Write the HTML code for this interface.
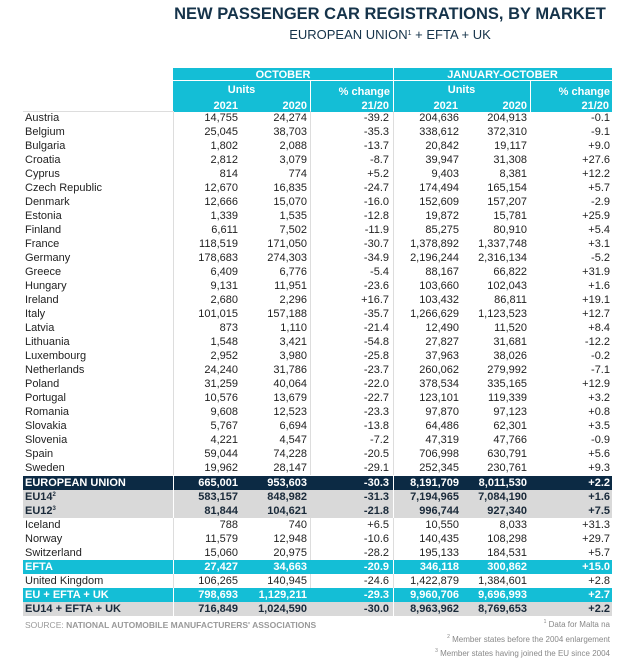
<!DOCTYPE html>
<html><head><meta charset="utf-8"><style>
body{margin:0;background:#fff;font-family:"Liberation Sans",sans-serif;}
#page{position:relative;width:624px;height:667px;overflow:hidden;}
.a{position:absolute;white-space:nowrap;}
.t{font-size:11px;color:#222;line-height:14px;}
.r{text-align:right;}
.h{color:#fff;font-weight:bold;font-size:11px;line-height:12px;}
sup{line-height:0;vertical-align:4px;}
</style></head><body><div id="page">
<div class="a" style="left:0;width:780px;text-align:center;top:5px;font-size:16.5px;font-weight:bold;color:#15334a;">NEW PASSENGER CAR REGISTRATIONS, BY MARKET</div>
<div class="a" style="left:0;width:780px;text-align:center;top:27px;font-size:13px;color:#15334a;">EUROPEAN UNION<sup style="font-size:7px">1</sup> + EFTA + UK</div>
<div class="a" style="left:173px;top:68px;width:439px;height:44px;background:#14bed6"></div>
<div class="a" style="left:393px;top:68px;width:1px;height:44px;background:#fff"></div>
<div class="a" style="left:173px;top:80px;width:439px;height:1px;background:#fff"></div>
<div class="a" style="left:310px;top:81px;width:1px;height:31px;background:#fff"></div>
<div class="a" style="left:530px;top:81px;width:1px;height:31px;background:#fff"></div>
<div class="a h" style="left:173px;width:220px;text-align:center;top:69px">OCTOBER</div>
<div class="a h" style="left:393px;width:219px;text-align:center;top:69px">JANUARY-OCTOBER</div>
<div class="a h" style="left:173px;width:137px;text-align:center;top:84px">Units</div>
<div class="a h" style="left:393px;width:137px;text-align:center;top:84px">Units</div>
<div class="a h r" style="left:310px;width:80px;top:86px">% change</div>
<div class="a h r" style="left:530px;width:80px;top:86px">% change</div>
<div class="a h r" style="left:190px;width:48px;top:100px">2021</div>
<div class="a h r" style="left:258px;width:49px;top:100px">2020</div>
<div class="a h r" style="left:330px;width:59px;top:100px">21/20</div>
<div class="a h r" style="left:410px;width:48px;top:100px">2021</div>
<div class="a h r" style="left:478px;width:49px;top:100px">2020</div>
<div class="a h r" style="left:550px;width:59px;top:100px">21/20</div>
<div class="a" style="left:23px;top:111px;width:150px;height:1px;background:#ddd"></div>
<div id="rows"></div>
<div class="a" style="left:25px;top:620px;font-size:8.5px;color:#999">SOURCE: <b>NATIONAL AUTOMOBILE MANUFACTURERS' ASSOCIATIONS</b></div>
<div class="a r" style="right:14px;top:620px;font-size:8px;color:#888"><sup style="font-size:5px">1</sup> Data for Malta na</div>
<div class="a r" style="right:14px;top:635px;font-size:8px;color:#888"><sup style="font-size:5px">2</sup> Member states before the 2004 enlargement</div>
<div class="a r" style="right:14px;top:649px;font-size:8px;color:#888"><sup style="font-size:5px">3</sup> Member states having joined the EU since 2004</div>
</div>
<script>
const markets=["Austria","Belgium","Bulgaria","Croatia","Cyprus","Czech Republic","Denmark","Estonia","Finland","France","Germany","Greece","Hungary","Ireland","Italy","Latvia","Lithuania","Luxembourg","Netherlands","Poland","Portugal","Romania","Slovakia","Slovenia","Spain","Sweden","EUROPEAN UNION","EU14<sup style='font-size:6px'>2</sup>","EU12<sup style='font-size:6px'>3</sup>","Iceland","Norway","Switzerland","EFTA","United Kingdom","EU + EFTA + UK","EU14 + EFTA + UK"];
const oct2021=["14,755","25,045","1,802","2,812","814","12,670","12,666","1,339","6,611","118,519","178,683","6,409","9,131","2,680","101,015","873","1,548","2,952","24,240","31,259","10,576","9,608","5,767","4,221","59,044","19,962","665,001","583,157","81,844","788","11,579","15,060","27,427","106,265","798,693","716,849"];
const oct2020=["24,274","38,703","2,088","3,079","774","16,835","15,070","1,535","7,502","171,050","274,303","6,776","11,951","2,296","157,188","1,110","3,421","3,980","31,786","40,064","13,679","12,523","6,694","4,547","74,228","28,147","953,603","848,982","104,621","740","12,948","20,975","34,663","140,945","1,129,211","1,024,590"];
const octPct=["-39.2","-35.3","-13.7","-8.7","+5.2","-24.7","-16.0","-12.8","-11.9","-30.7","-34.9","-5.4","-23.6","+16.7","-35.7","-21.4","-54.8","-25.8","-23.7","-22.0","-22.7","-23.3","-13.8","-7.2","-20.5","-29.1","-30.3","-31.3","-21.8","+6.5","-10.6","-28.2","-20.9","-24.6","-29.3","-30.0"];
const ytd2021=["204,636","338,612","20,842","39,947","9,403","174,494","152,609","19,872","85,275","1,378,892","2,196,244","88,167","103,660","103,432","1,266,629","12,490","27,827","37,963","260,062","378,534","123,101","97,870","64,486","47,319","706,998","252,345","8,191,709","7,194,965","996,744","10,550","140,435","195,133","346,118","1,422,879","9,960,706","8,963,962"];
const ytd2020=["204,913","372,310","19,117","31,308","8,381","165,154","157,207","15,781","80,910","1,337,748","2,316,134","66,822","102,043","86,811","1,123,523","11,520","31,681","38,026","279,992","335,165","119,339","97,123","62,301","47,766","630,791","230,761","8,011,530","7,084,190","927,340","8,033","108,298","184,531","300,862","1,384,601","9,696,993","8,769,653"];
const ytdPct=["-0.1","-9.1","+9.0","+27.6","+12.2","+5.7","-2.9","+25.9","+5.4","+3.1","-5.2","+31.9","+1.6","+19.1","+12.7","+8.4","-12.2","-0.2","-7.1","+12.9","+3.2","+0.8","+3.5","-0.9","+5.6","+9.3","+2.2","+1.6","+7.5","+31.3","+29.7","+5.7","+15.0","+2.8","+2.7","+2.2"];
const styles={26:"navy",27:"gray",28:"gray",32:"cyan",34:"cyan",35:"gray"};
const root=document.getElementById('rows');
const tops=[];
let y=111;
for(let i=0;i<markets.length;i++){
  if(i==26)y+=1;
  tops.push(y);
  y+=14.0;
}
for(let i=0;i<markets.length;i++){
  const st=styles[i];
  const top=tops[i];
  const row=document.createElement('div');
  
  
  row.className='a';
  let bg='transparent',col='#222',fw='normal',lc='#ddd';
  if(st=='navy'){bg='#0c2a44';col='#fff';fw='bold';lc='#fff';}
  if(st=='gray'){bg='#d9d9d9';col='#1a2a3a';fw='bold';lc='#fff';}
  if(st=='cyan'){bg='#14bed6';col='#fff';fw='bold';lc='#fff';}
  row.style.cssText=`left:23px;top:${top}px;width:589px;height:14.2px;overflow:hidden;background:${bg};color:${col};font-weight:${fw};`;
  let h=`<div class="a t" style="left:2px;top:0;color:${col}">${markets[i]}</div>`;
  h+=`<div class="a" style="left:150px;top:0;width:1px;height:15px;background:${lc}"></div>`;
  h+=`<div class="a" style="left:370px;top:0;width:1px;height:15px;background:${lc}"></div>`;
  if(!st){h+=`<div class="a" style="left:287px;top:0;width:1px;height:15px;background:${lc}"></div>`;}
  const cells=[[oct2021,215],[oct2020,284],[octPct,366],[ytd2021,436],[ytd2020,504],[ytdPct,587]];
  for(const [arr,r] of cells){h+=`<div class="a t r" style="left:${r-80}px;width:80px;top:0;color:${col}">${arr[i]}</div>`;}
  row.innerHTML=h;
  root.appendChild(row);
}
</script>
</body></html>
